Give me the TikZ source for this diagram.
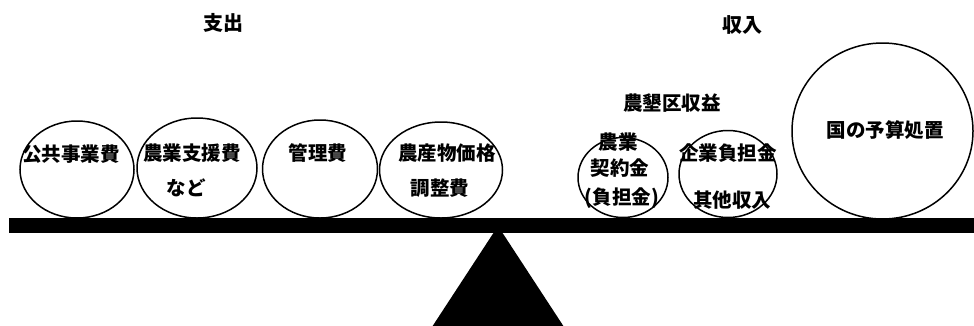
\documentclass[tikz,border=0pt]{standalone}
\usepackage{fontspec}
\newfontfamily\cjk{Noto Sans CJK JP}
\usetikzlibrary{shapes.geometric}
\begin{document}
\begin{tikzpicture}[x=1pt,y=-1pt,
  ball/.style={draw=black,line width=1.5pt,ellipse,inner sep=0pt},
  lbl/.style={font=\cjk\bfseries\fontsize{19.5}{21}\selectfont,inner sep=0pt},
  head/.style={font=\cjk\bfseries\fontsize{20}{22}\selectfont,inner sep=0pt}]
\useasboundingbox (0,0) rectangle (974,325);
\clip (0,0) rectangle (974,325);
% beam and fulcrum
\node[draw=none,fill=black,inner sep=0pt,minimum width=965pt,minimum height=15pt,anchor=north west] (beam) at (9,218) {};
\coordinate (apex) at (498,226);
\coordinate (bl) at (430,330);
\coordinate (br) at (566,330);
\fill[black] (apex) -- (bl) -- (br) -- cycle;
% balls
\node[ball,minimum width=114pt,minimum height=97pt] (c1) at (77,169.5) {};
\node[ball,minimum width=120pt,minimum height=100pt] (c2) at (197,168) {};
\node[ball,minimum width=115pt,minimum height=98pt] (c3) at (320,169) {};
\node[ball,minimum width=123pt,minimum height=96pt] (c4) at (441,170) {};
\node[ball,minimum width=90pt,minimum height=80pt] (c5) at (623,177.5) {};
\node[ball,minimum width=98pt,minimum height=87pt] (c6) at (728,174) {};
\node[ball,minimum width=181pt,minimum height=176pt] (c7) at (882.5,131) {};
% headings
\node[head] (out) at (223,23) {支出};
\node[head] (in) at (742,25) {収入};
\node[lbl] (kon) at (672,103) {農墾区収益};
% labels
\node[lbl] (t1) at (71,154) {公共事業費};
\node[lbl] (t2) at (192,153) {農業支援費};
\node[lbl] (t2b) at (186,188) {など};
\node[lbl] (t3) at (318,153) {管理費};
\node[lbl] (t4) at (447,153) {農産物価格};
\node[lbl] (t4b) at (440,188) {調整費};
\node[lbl] (t5a) at (618,142) {農業};
\node[lbl] (t5b) at (620,168) {契約金};
\node[lbl] (t5c) at (622,198) {(負担金)};
\node[lbl] (t6a) at (728,153) {企業負担金};
\node[lbl] (t6b) at (732,200) {其他収入};
\node[lbl] (t7) at (885,130) {国の予算処置};
\end{tikzpicture}
\end{document}
